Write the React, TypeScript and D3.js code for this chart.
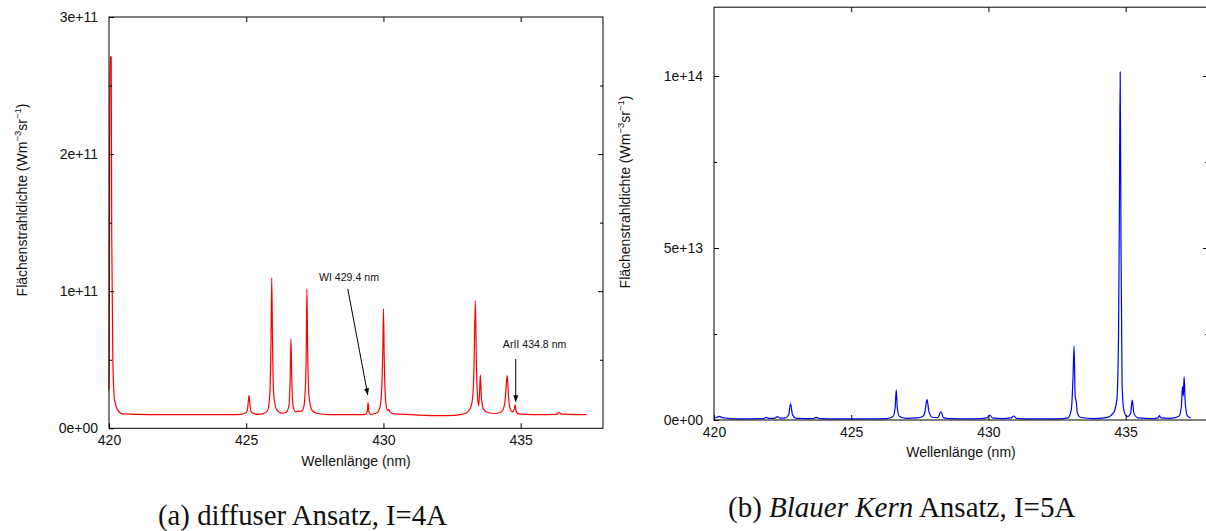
import React, { useEffect, useRef } from 'react';
import * as d3 from 'd3';

// wavelength axis, same for both panels
const wavelengthDomain = [420, 438];
const wavelengthTicks = [420, 425, 430, 435];

// (a) diffuser Ansatz, I=4A  -- [wavelength nm, radiance in 1e11 W m^-3 sr^-1]
const unitA = 1e11;
const radianceTicksA = [0, 1e11, 2e11, 3e11];
const radianceMinorA = [0.5e11, 1.5e11, 2.5e11];
const spectrumA: [number, number][] = [
  [420.00, 0.28], [420.02, 1.60], [420.04, 2.71], [420.08, 2.71], [420.10, 1.40], [420.14, 0.50],
  [420.20, 0.21], [420.30, 0.14], [420.50, 0.105], [421.50, 0.100], [423.00, 0.100], [424.40, 0.100],
  [424.80, 0.102], [425.00, 0.115], [425.06, 0.160], [425.10, 0.240], [425.14, 0.160], [425.20, 0.115],
  [425.40, 0.102], [425.60, 0.105], [425.78, 0.130], [425.86, 0.250], [425.90, 0.600], [425.93, 1.097],
  [425.96, 0.600], [426.00, 0.250], [426.10, 0.140], [426.30, 0.110], [426.45, 0.115], [426.55, 0.160],
  [426.60, 0.350], [426.63, 0.652], [426.66, 0.350], [426.71, 0.160], [426.80, 0.120], [426.92, 0.126],
  [427.02, 0.125], [427.10, 0.160], [427.16, 0.320], [427.19, 0.600], [427.21, 1.017], [427.24, 0.550],
  [427.28, 0.250], [427.40, 0.130], [427.60, 0.108], [428.00, 0.100], [429.00, 0.100], [429.35, 0.102],
  [429.41, 0.120], [429.44, 0.187], [429.47, 0.120], [429.53, 0.102], [429.75, 0.110], [429.88, 0.160],
  [429.95, 0.350], [429.98, 0.600], [430.00, 0.871], [430.03, 0.500], [430.08, 0.200], [430.15, 0.130],
  [430.19, 0.139], [430.23, 0.120], [430.40, 0.105], [431.00, 0.100], [432.00, 0.092], [432.60, 0.095],
  [433.00, 0.110], [433.15, 0.140], [433.25, 0.220], [433.30, 0.450], [433.35, 0.931], [433.39, 0.450],
  [433.44, 0.200], [433.47, 0.165], [433.50, 0.250], [433.53, 0.389], [433.57, 0.220], [433.65, 0.140],
  [433.80, 0.115], [434.10, 0.108], [434.30, 0.120], [434.42, 0.180], [434.47, 0.300], [434.51, 0.387],
  [434.55, 0.250], [434.62, 0.140], [434.70, 0.120], [434.77, 0.140], [434.80, 0.172], [434.83, 0.130],
  [434.90, 0.105], [435.50, 0.100], [436.30, 0.102], [436.40, 0.114], [436.50, 0.103], [437.00, 0.100],
  [437.40, 0.100],
];
const annotationsA = [
  { label: 'WI 429.4 nm', text: [427.65, 1.075], from: [428.70, 1.017], to: [429.43, 0.243] },
  { label: 'ArII 434.8 nm', text: [434.35, 0.587], from: [434.82, 0.506], to: [434.82, 0.192] },
];

// (b) Blauer Kern Ansatz, I=5A  -- [wavelength nm, radiance in 1e13 W m^-3 sr^-1]
const unitB = 1e13;
const radianceTicksB = [0, 5e13, 1e14];
const radianceMinorB = [2.5e13, 7.5e13];
const spectrumB: [number, number][] = [
  [420.00, 0.06], [420.10, 0.08], [420.20, 0.105], [420.30, 0.07], [420.50, 0.05], [421.00, 0.035],
  [421.80, 0.04], [421.91, 0.076], [422.00, 0.045], [422.20, 0.05], [422.31, 0.096], [422.40, 0.055],
  [422.60, 0.06], [422.72, 0.15], [422.79, 0.48], [422.86, 0.15], [423.00, 0.05], [423.60, 0.04],
  [423.73, 0.076], [423.85, 0.04], [424.50, 0.03], [425.50, 0.03], [426.30, 0.04], [426.52, 0.10],
  [426.60, 0.35], [426.64, 0.88], [426.68, 0.35], [426.76, 0.10], [427.00, 0.05], [427.40, 0.06],
  [427.60, 0.10], [427.69, 0.25], [427.76, 0.60], [427.83, 0.25], [427.95, 0.08], [428.15, 0.07],
  [428.27, 0.24], [428.36, 0.07], [428.60, 0.04], [429.50, 0.03], [429.95, 0.06], [430.05, 0.145],
  [430.15, 0.06], [430.50, 0.04], [430.82, 0.06], [430.92, 0.116], [431.02, 0.05], [431.50, 0.03],
  [432.50, 0.03], [432.90, 0.06], [433.02, 0.30], [433.08, 1.20], [433.12, 2.15], [433.16, 0.70],
  [433.20, 0.53], [433.24, 0.20], [433.35, 0.08], [433.80, 0.04], [434.30, 0.07], [434.55, 0.20],
  [434.68, 0.60], [434.74, 2.50], [434.77, 6.00], [434.80, 10.12], [434.83, 5.00], [434.87, 1.00],
  [434.93, 0.30], [435.00, 0.14], [435.08, 0.10], [435.18, 0.20], [435.24, 0.58], [435.30, 0.20],
  [435.45, 0.06], [436.00, 0.04], [436.18, 0.06], [436.23, 0.125], [436.28, 0.06], [436.60, 0.05],
  [436.80, 0.07], [436.95, 0.12], [437.03, 0.40], [437.07, 0.97], [437.10, 0.70], [437.13, 1.26],
  [437.17, 0.50], [437.25, 0.12], [437.37, 0.06],
];

const FONT = 'Liberation Sans, Arial, Helvetica, sans-serif';

function drawPanel(root, p) {
  const x = d3.scaleLinear().domain(wavelengthDomain).range([p.x0, p.x1]);
  const y = d3.scaleLinear().domain([0, p.yMax]).range([p.y1, p.y0]);
  const g = root.append('g');
  const fmt = (d) => (d === 0 ? '0e+00' : d3.format('.0e')(d));

  const line = d3.line<[number, number]>()
    .x(d => x(d[0]))
    .y(d => y(d[1] * p.unit))
    .curve(d3.curveMonotoneX);

  g.append('path')
    .datum(p.data)
    .attr('d', line)
    .attr('fill', 'none')
    .attr('stroke', p.color)
    .attr('stroke-width', 1.2)
    .attr('stroke-linejoin', 'round');

  const style = (a) => {
    a.select('.domain').remove();
    a.attr('font-family', FONT).attr('font-size', 14);
    a.selectAll('text').attr('fill', '#111');
    a.selectAll('line').attr('stroke', '#000');
  };

  // bottom / top
  g.append('g').attr('transform', `translate(0,${p.y1})`)
    .call(d3.axisBottom(x).tickValues(wavelengthTicks).tickSize(-5).tickPadding(7).tickFormat(d3.format('d')))
    .call(style);
  g.append('g').attr('transform', `translate(0,${p.y0})`)
    .call(d3.axisTop(x).tickValues(wavelengthTicks.slice(1)).tickSize(-5).tickFormat(() => ''))
    .call(style);

  // left / right
  g.append('g').attr('transform', `translate(${p.x0},0)`)
    .call(d3.axisLeft(y).tickValues(p.yTicks).tickSize(-5).tickPadding(11).tickFormat(fmt))
    .call(style);
  g.append('g').attr('transform', `translate(${p.x0},0)`)
    .call(d3.axisLeft(y).tickValues(p.yMinor).tickSize(-3).tickFormat(() => ''))
    .call(style);
  g.append('g').attr('transform', `translate(${p.x1},0)`)
    .call(d3.axisRight(y).tickValues(p.yTicks.filter(v => v > 0 && v < p.yMax)).tickSize(-5).tickFormat(() => ''))
    .call(style);
  g.append('g').attr('transform', `translate(${p.x1},0)`)
    .call(d3.axisRight(y).tickValues(p.yMinor).tickSize(-3).tickFormat(() => ''))
    .call(style);

  g.append('rect')
    .attr('x', p.x0).attr('y', p.y0)
    .attr('width', p.x1 - p.x0).attr('height', p.y1 - p.y0)
    .attr('fill', 'none').attr('stroke', '#000').attr('stroke-width', 1);

  // axis titles
  g.append('text')
    .attr('x', (p.x0 + p.x1) / 2).attr('y', p.xLabelY)
    .attr('text-anchor', 'middle')
    .attr('font-family', FONT).attr('font-size', 14).attr('fill', '#111')
    .text('Wellenlänge (nm)');

  const yl = g.append('text')
    .attr('transform', `translate(${p.yLabelX},${p.yLabelY}) rotate(-90)`)
    .attr('text-anchor', 'middle')
    .attr('font-family', FONT).attr('font-size', 14).attr('fill', '#111');
  yl.append('tspan').text('Flächenstrahldichte (Wm');
  yl.append('tspan').attr('dy', -6).attr('font-size', 9.5).text('−3');
  yl.append('tspan').attr('dy', 6).text('sr');
  yl.append('tspan').attr('dy', -6).attr('font-size', 9.5).text('−1');
  yl.append('tspan').attr('dy', 6).text(')');

  // annotations
  (p.annotations || []).forEach(a => {
    g.append('text')
      .attr('x', x(a.text[0])).attr('y', y(a.text[1] * p.unit))
      .attr('font-family', FONT).attr('font-size', 10.6).attr('fill', '#111')
      .text(a.label);
    g.append('line')
      .attr('x1', x(a.from[0])).attr('y1', y(a.from[1] * p.unit))
      .attr('x2', x(a.to[0])).attr('y2', y(a.to[1] * p.unit))
      .attr('stroke', '#000').attr('stroke-width', 1)
      .attr('marker-end', 'url(#arrowhead)');
  });
}

export default function App() {
  const plotRef = useRef<SVGGElement>(null);

  useEffect(() => {
    const root = d3.select(plotRef.current);
    root.selectAll('*').remove();

    drawPanel(root, {
      x0: 109, x1: 603, y0: 17, y1: 428.3,
      yMax: 3e11, unit: unitA, data: spectrumA, color: '#ff0000',
      yTicks: radianceTicksA, yMinor: radianceMinorA,
      xLabelY: 466, yLabelX: 26.5, yLabelY: 200,
      annotations: annotationsA,
    });

    drawPanel(root, {
      x0: 714, x1: 1208, y0: 7.2, y1: 420,
      yMax: 1.2e14, unit: unitB, data: spectrumB, color: '#0000ff',
      yTicks: radianceTicksB, yMinor: radianceMinorB,
      xLabelY: 457, yLabelX: 630, yLabelY: 192,
    });
  }, []);

  return (
    <div>
      <style>{'body{margin:0}'}</style>
      <svg width={1206} height={531} style={{ display: 'block', background: '#fff' }}>
        <defs>
          <marker id="arrowhead" viewBox="0 0 8 6" refX="8" refY="3"
            markerWidth="7" markerHeight="5" markerUnits="userSpaceOnUse" orient="auto">
            <path d="M0,0 L8,3 L0,6 z" fill="#000" />
          </marker>
        </defs>
        <g ref={plotRef} />
        <text x={158} y={525} fontFamily="Liberation Serif, Times New Roman, serif" fontSize={29}
          textLength={289} lengthAdjust="spacingAndGlyphs" fill="#111">
          (a) diffuser Ansatz, I=4A
        </text>
        <text x={728} y={517} fontFamily="Liberation Serif, Times New Roman, serif" fontSize={29} fill="#111">
          (b) <tspan fontStyle="italic">Blauer Kern</tspan> Ansatz, I=5A
        </text>
      </svg>
    </div>
  );
}
